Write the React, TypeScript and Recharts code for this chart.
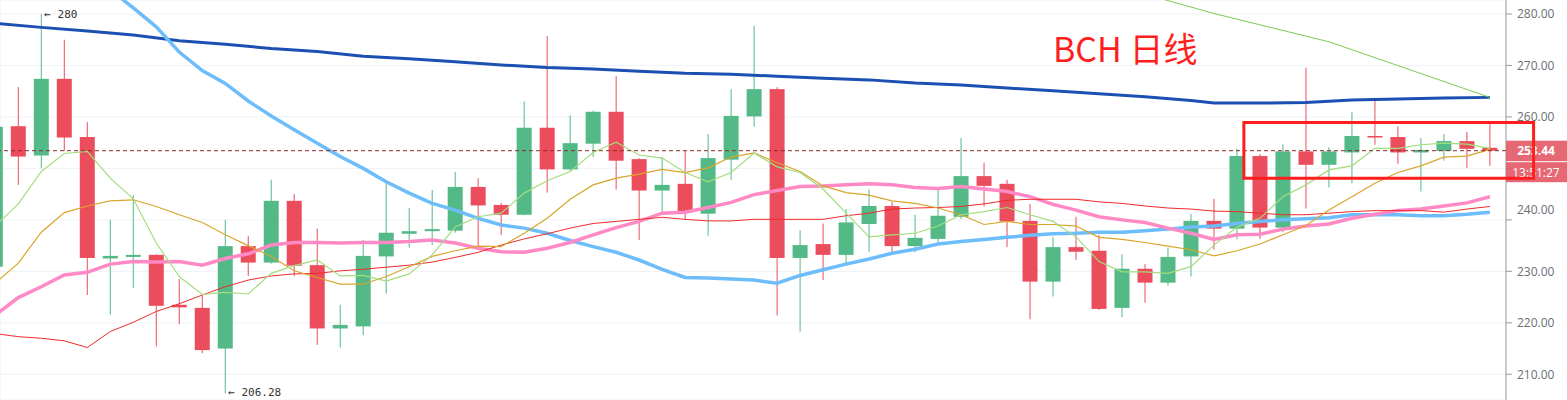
import {
  Bar,
  CartesianGrid,
  ComposedChart,
  Line,
  ReferenceArea,
  ReferenceLine,
  XAxis,
  YAxis,
} from 'recharts';

// daily candles (index 0 is cut by the left edge)
const opens = [
  230.9, 258.2, 252.5, 267.4, 256.1, 232.5, 232.8, 233.2, 223.5, 222.9,
  215.0, 234.9, 231.7, 243.7, 231.2, 218.9, 219.3, 232.9, 237.3, 237.8,
  237.9, 246.4, 242.9, 241.0, 257.9, 249.8, 254.8, 261.0, 251.8, 245.7,
  247.0, 241.2, 251.7, 260.1, 265.4, 232.6, 235.3, 233.2, 239.2, 242.7,
  234.9, 236.3, 240.6, 248.5, 247.0, 239.8, 228.0, 234.7, 234.0, 222.9,
  230.5, 227.8, 232.9, 239.8, 238.3, 252.4, 238.5, 253.3, 250.7, 253.1,
  256.3, 256.1, 253.1, 253.4, 255.3, 254.0,
];
const highs = [
  259.5, 265.8, 280.0, 275.0, 259.0, 240.0, 244.8, 233.3, 228.5, 225.3,
  240.0, 236.9, 247.8, 245.0, 238.3, 223.5, 236.1, 247.1, 242.3, 245.8,
  249.3, 248.1, 243.3, 263.0, 275.7, 260.3, 261.2, 267.9, 252.0, 252.2,
  253.4, 256.7, 265.4, 277.7, 265.8, 238.0, 239.3, 242.1, 245.9, 243.5,
  241.0, 245.9, 255.9, 251.1, 247.8, 243.1, 236.7, 240.6, 237.1, 233.3,
  231.4, 234.6, 241.1, 244.1, 253.8, 252.8, 254.7, 269.6, 254.1, 261.0,
  263.5, 258.2, 255.9, 256.7, 257.1, 258.8,
];
const lows = [
  229.5, 246.8, 250.0, 253.4, 225.4, 221.6, 226.8, 215.4, 219.7, 214.1,
  206.28, 229.1, 231.5, 229.0, 215.7, 215.2, 217.6, 225.7, 234.6, 235.1,
  237.5, 234.2, 237.1, 240.9, 245.3, 249.6, 252.2, 245.9, 236.1, 241.5,
  240.1, 236.9, 247.8, 258.1, 221.4, 218.3, 228.3, 231.6, 233.8, 233.7,
  233.7, 235.6, 240.2, 242.6, 234.7, 220.7, 225.1, 232.2, 222.5, 221.1,
  223.9, 227.2, 229.0, 234.2, 236.2, 236.3, 237.6, 242.2, 246.3, 247.1,
  254.6, 250.9, 245.5, 251.5, 250.1, 250.5,
];
const closes = [
  258.1, 252.3, 267.4, 256.0, 232.6, 233.0, 233.2, 223.3, 223.0, 214.7,
  234.9, 231.7, 243.7, 231.1, 218.9, 219.6, 233.0, 237.5, 237.8, 238.2,
  246.4, 242.8, 241.0, 257.9, 249.8, 254.9, 261.0, 251.5, 245.7, 246.8,
  241.5, 252.0, 260.2, 265.4, 232.6, 235.1, 233.2, 239.5, 242.7, 234.9,
  236.5, 240.8, 248.5, 246.6, 239.7, 228.0, 234.7, 233.8, 222.7, 230.5,
  227.8, 232.8, 239.8, 238.3, 252.4, 238.5, 253.3, 250.7, 253.3, 256.3,
  256.0, 253.1, 253.6, 255.3, 253.8, 253.44,
];

// moving averages
const maFast = [
  238.8, 243.1, 249.4, 252.9, 253.3, 248.1, 244.1, 235.5, 229.0, 225.5,
  225.9, 225.6, 229.6, 231.1, 232.2, 229.1, 229.2, 228.1, 229.5, 233.2,
  238.6, 240.6, 241.3, 245.2, 247.6, 249.4, 253.1, 255.1, 252.6, 252.0,
  249.2, 247.4, 249.2, 253.0, 250.3, 249.2, 246.0, 241.3, 236.7, 237.1,
  237.4, 238.8, 241.0, 241.6, 242.4, 241.0, 239.7, 236.7, 231.9, 229.9,
  229.9, 229.6, 230.9, 235.1, 238.6, 240.3, 244.5, 246.8, 249.7, 250.5,
  253.9, 253.9, 254.6, 254.9, 254.7, 253.9,
];
const maGold = [
  227.7, 231.6, 237.6, 241.4, 242.7, 243.7, 243.9, 242.6, 241.0, 239.5,
  237.1, 235.0, 232.9, 230.1, 228.8, 227.5, 227.5, 229.0, 230.9, 232.9,
  234.0, 234.9, 234.8, 237.4, 240.3, 244.0, 246.8, 248.1, 248.9, 249.8,
  249.2, 250.1, 252.2, 253.0, 251.1, 249.4, 246.6, 245.3, 244.8, 243.7,
  243.2, 242.3, 241.0, 239.1, 239.7, 239.1, 239.1, 238.8, 236.6, 236.2,
  235.6, 234.9, 234.2, 233.0, 234.0, 235.3, 237.1, 238.9, 241.9, 244.5,
  247.1, 249.2, 250.5, 252.2, 252.4, 253.7,
];
const maRed = [
  217.9, 217.3, 217.0, 216.5, 215.2, 218.3, 220.1, 222.2, 223.7, 225.4,
  227.0, 228.3, 229.1, 229.5, 229.6, 230.1, 230.4, 230.8, 231.2, 231.8,
  232.7, 233.7, 235.1, 236.3, 237.3, 238.4, 239.3, 239.7, 240.1, 240.5,
  240.1, 239.8, 239.8, 240.1, 240.1, 240.1, 240.1, 240.8, 241.3, 242.1,
  242.3, 242.4, 242.6, 243.1, 243.8, 244.0, 244.0, 244.0, 243.5, 243.2,
  242.7, 242.3, 242.1, 241.7, 241.6, 241.3, 241.0, 241.0, 241.3, 241.6,
  241.8, 241.8, 241.8, 241.5, 242.1, 242.6,
];
const maPink = [
  221.5, 224.9, 227.0, 229.3, 229.8, 231.4, 231.9, 231.8, 231.9, 231.2,
  232.5, 233.4, 235.1, 235.6, 235.6, 235.5, 235.6, 235.6, 235.8, 236.1,
  235.5, 234.5, 233.8, 233.7, 234.5, 235.6, 237.1, 238.5, 239.7, 241.3,
  241.5, 242.4, 243.4, 244.9, 245.7, 246.5, 246.6, 246.8, 247.0, 246.8,
  246.3, 246.1, 246.5, 246.0, 245.5, 244.5, 243.0, 241.9, 240.6, 240.0,
  239.5, 238.4, 237.4, 236.2, 237.1, 237.2, 238.2, 238.8, 239.2, 240.3,
  241.1, 241.8, 242.1, 242.7, 243.3, 244.5,
];
// light blue starts at candle 5 (earlier part is above the top edge)
const maSkyStart = 5;
const maSky = [
  284.7, 281.2, 277.5, 272.6, 269.0, 266.5, 263.1, 260.2, 257.5, 254.9,
  252.3, 250.0, 247.4, 245.2, 243.2, 241.9, 240.3, 239.0, 238.4, 237.4,
  236.0, 234.8, 233.7, 232.2, 230.4, 228.8, 228.7, 228.5, 228.3, 227.7,
  229.2, 230.3, 231.4, 232.4, 233.5, 234.3, 235.3, 235.8, 236.2, 236.6,
  237.0, 237.3, 237.4, 237.6, 237.6, 237.9, 238.2, 238.6, 238.8, 239.3,
  239.7, 240.0, 240.2, 240.4, 241.0, 241.0, 241.0, 240.8, 240.8, 241.1, 241.5,
];
// [candle index, value]
const maNavy: [number, number][] = [
  [0, 278.2], [2, 277.4], [4, 276.7], [6, 275.9], [8, 274.8], [10, 274.1],
  [12, 273.3], [14, 272.7], [16, 271.8], [18, 271.3], [20, 270.7], [22, 270.1],
  [24, 269.6], [26, 269.3], [28, 268.9], [30, 268.5], [32, 268.3], [34, 267.9],
  [36, 267.5], [38, 267.2], [40, 266.6], [42, 266.2], [44, 265.6], [46, 265.1],
  [48, 264.5], [50, 263.9], [52, 263.2], [53, 262.7], [55, 262.7], [57, 262.8],
  [59, 263.3], [61, 263.5], [63, 263.7], [65, 263.8],
];
const maLong: [number, number][] = [
  [50, 283.9], [51, 282.6], [53, 280.1], [58, 274.6], [65, 263.8],
];

const yTicks = [210, 220, 230, 240, 250, 260, 270, 280];
const gridCandles = [2, 6, 10, 14, 18, 22, 26, 30, 34, 38, 42, 46, 50, 54, 58, 62];
const lastPrice = 253.44;
const countdown = '13:51:27';
const title = 'BCH 日线';

const UP = '#53b987';
const DOWN = '#eb4d5c';

const sparse = (pts: [number, number][]) => new Map(pts);
const navyMap = sparse(maNavy);
const longMap = sparse(maLong);

const data = opens.map((open, i) => ({
  i,
  open,
  high: highs[i],
  low: lows[i],
  close: closes[i],
  range: [lows[i], highs[i]],
  fast: maFast[i],
  gold: maGold[i],
  red: maRed[i],
  pink: maPink[i],
  sky: i >= maSkyStart ? maSky[i - maSkyStart] : null,
  navy: navyMap.get(i) ?? null,
  long: longMap.get(i) ?? null,
}));

const hiIdx = highs.indexOf(Math.max(...highs));
const loIdx = lows.indexOf(Math.min(...lows));

function Candle(props: any) {
  const { x, y, width, height, payload } = props;
  if (x == null || y == null) return null;
  const { open, close, high, low, i } = payload;
  const color = close >= open ? UP : DOWN;
  const top = Math.min(y, y + height);
  const bottom = Math.max(y, y + height);
  const span = high - low;
  const toPx = (v: number) => (span === 0 ? top : top + ((high - v) / span) * (bottom - top));
  const cx = x + width / 2;
  const bodyTop = toPx(Math.max(open, close));
  const bodyBottom = toPx(Math.min(open, close));
  const labelStyle = { fontFamily: 'DejaVu Sans Mono, monospace', fontSize: 11, fill: '#333' };
  return (
    <g>
      <line x1={cx} x2={cx} y1={top} y2={bottom} stroke={color} strokeWidth={1} />
      <rect x={x} y={bodyTop} width={width} height={Math.max(1.5, bodyBottom - bodyTop)} fill={color} />
      {i === hiIdx && (
        <text x={cx + 3} y={top} dy="0.35em" {...labelStyle}>
          {'\u2190 ' + String(high)}
        </text>
      )}
      {i === loIdx && (
        <text x={cx + 3} y={bottom} dy="0.2em" {...labelStyle}>
          {'\u2190 ' + String(low)}
        </text>
      )}
    </g>
  );
}

function PriceTick(props: any) {
  const { x, y, payload } = props;
  // 240 is pushed up by the price tag and 250 sits under it, as in the source
  const shift = payload.value === 240 ? -10 : 0;
  const hidden = payload.value === 250;
  return (
    <text
      x={x}
      y={y + shift}
      dy="0.36em"
      textAnchor="start"
      fontFamily="Open Sans, sans-serif"
      fontSize={12}
      fill="#6b6e76"
      fillOpacity={hidden ? 0.18 : 1}
    >
      {Number(payload.value).toFixed(2)}
    </text>
  );
}

function PriceTag(props: any) {
  const vb = props.viewBox;
  if (!vb) return null;
  const left = vb.x + vb.width;
  const ly = vb.y;
  return (
    <g>
      <rect x={left} y={ly - 10} width={61} height={20.5} fill="#e35c69" fillOpacity={0.93} />
      <rect x={left} y={ly + 11.5} width={61} height={20} fill="#e35c69" fillOpacity={0.93} />
      <text x={left + 30} y={ly} dy="0.36em" textAnchor="middle" fontFamily="Open Sans, sans-serif" fontSize={12} fontWeight={700} fill="#fff">
        {lastPrice.toFixed(2)}
      </text>
      <text x={left + 30} y={ly + 21.5} dy="0.36em" textAnchor="middle" fontFamily="Open Sans, sans-serif" fontSize={12} fill="#fff">
        {countdown}
      </text>
    </g>
  );
}

export default function App() {
  return (
    <div style={{ position: 'absolute', left: 0, top: 0, width: 1567, height: 400, background: '#fff', overflow: 'hidden' }}>
      <ComposedChart width={1567} height={400} data={data} margin={{ top: 0, right: 0, bottom: 0, left: 0 }}>
        <CartesianGrid stroke="#eff2f6" strokeWidth={1} />
        <XAxis
          type="number"
          dataKey="i"
          domain={[0.204, 65.7]}
          allowDataOverflow
          ticks={gridCandles}
          tick={false}
          tickLine={false}
          axisLine={false}
          height={0}
        />
        <YAxis
          orientation="right"
          width={61}
          domain={[205.0, 282.72]}
          allowDataOverflow
          ticks={yTicks}
          interval={0}
          tick={<PriceTick />}
          tickSize={6}
          tickMargin={5}
          stroke="#9b9b9b"
          tickLine={{ stroke: '#9b9b9b' }}
        />
        <Bar dataKey="range" barSize={15} shape={<Candle />} isAnimationActive={false} />
        <Line type="linear" dataKey="navy" stroke="#1b50b2" strokeWidth={3} dot={false} activeDot={false} connectNulls isAnimationActive={false} />
        <Line type="linear" dataKey="sky" stroke="#6cbdf9" strokeWidth={3.5} dot={false} activeDot={false} isAnimationActive={false} />
        <Line type="linear" dataKey="pink" stroke="#ff89c4" strokeWidth={3.5} dot={false} activeDot={false} isAnimationActive={false} />
        <Line type="linear" dataKey="red" stroke="#f02a2a" strokeWidth={1} dot={false} activeDot={false} isAnimationActive={false} />
        <Line type="linear" dataKey="gold" stroke="#d9a52a" strokeWidth={1.2} dot={false} activeDot={false} isAnimationActive={false} />
        <Line type="linear" dataKey="fast" stroke="#a3dd7e" strokeWidth={1.2} dot={false} activeDot={false} isAnimationActive={false} />
        <Line type="linear" dataKey="long" stroke="#7acb52" strokeWidth={1} dot={false} activeDot={false} connectNulls isAnimationActive={false} />
        <ReferenceLine
          y={lastPrice}
          stroke="#8e2b2b"
          strokeDasharray="4 3"
          strokeWidth={1}
          label={<PriceTag />}
          {...({ zIndex: 2000 } as any)}
        />
        <ReferenceArea
          x1={54.3}
          x2={66.9}
          y1={248.1}
          y2={258.9}
          ifOverflow="visible"
          fill="none"
          fillOpacity={0}
          stroke="#ff1e1e"
          strokeWidth={3}
          {...({ zIndex: 2100 } as any)}
        />
      </ComposedChart>
      <svg width={1567} height={400} style={{ position: 'absolute', left: 0, top: 0, pointerEvents: 'none' }}>
        <text x={1053} y={62} fontFamily="Noto Sans CJK SC, sans-serif" fontSize={34} fill="#ff1e1e">
          {title}
        </text>
      </svg>
    </div>
  );
}
